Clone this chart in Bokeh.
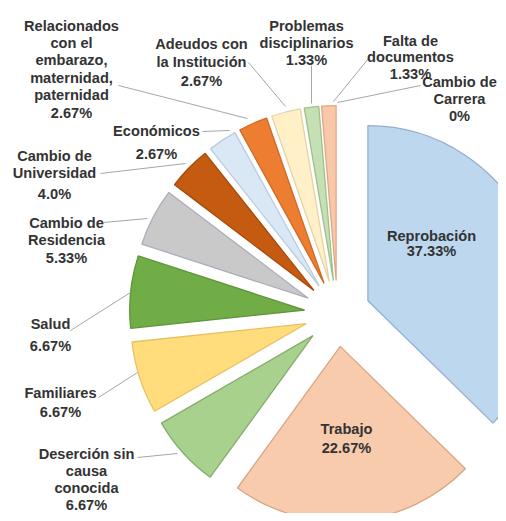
import math
from bokeh.plotting import figure
from bokeh.models import Range1d, ColumnDataSource
from bokeh.core.properties import value
from bokeh.embed import file_html
from bokeh.resources import INLINE

# ---- data (clockwise from 12 o'clock) ----
categories = [
    "Reprobación", "Trabajo", "Deserción sin\ncausa\nconocida", "Familiares",
    "Salud", "Cambio de\nResidencia", "Cambio de\nUniversidad", "Económicos",
    "Relacionados\ncon el\nembarazo,\nmaternidad,\npaternidad",
    "Adeudos con\nla Institución", "Problemas\ndisciplinarios",
    "Falta de\ndocumentos", "Cambio de\nCarrera",
]
values = [37.33, 22.67, 6.67, 6.67, 6.67, 5.33, 4.0, 2.67, 2.67, 2.67, 1.33, 1.33, 0]
fills = ["#BDD7EE", "#F8CBAD", "#A9D18E", "#FFDC7C", "#70AD47", "#C9C9C9",
         "#C55A11", "#DAE8F6", "#ED7D31", "#FFF0C8", "#C5E0B4", "#F8C8A8", "#DDDDDD"]
borders = ["#95AECB", "#D8A584", "#86AC6C", "#E8C060", "#5E9538", "#A9AFBA",
           "#A84A0C", "#B8CCE0", "#D06A22", "#E6D3A4", "#9FC08A", "#DDAA88", "#BBBBBB"]

# ---- layout (pixel coordinates of the reference picture) ----
CX, CY, R, EXPLODE = 337, 313, 175, 33

# label layout: center x, first line y, line spacing, extra gap before %
label_pos = [
    (431, 235, 15, 0), (346, 428, 19, 0), (86, 453, 17.3, 0), (60, 392, 19, 0),
    (50, 323, 22, 0), (66, 222, 17.5, 0), (54, 155, 17, 4), (156, 130, 23, 0),
    (71, 25, 17.4, 0), (201, 43, 18.5, 0), (306, 25, 17, 0), (410, 40, 16.5, 0),
    (459, 81, 17, 0),
]
leaders = [
    None, None, (137, 457, 177, 453), (98, 397, 137, 372), (70, 330, 130, 292),
    (103, 222, 147, 218), (100, 173, 185, 163), (202, 131, 229, 130),
    (118, 85, 247, 118), (248, 62, 285, 106), (311, 65, 311, 103),
    (368, 58, 333, 101), (420, 85, 337, 102),
]

total = sum(values)
wx, wy, ws, we, wf, wb = [], [], [], [], [], []
acc = 0.0
for v, f, b in zip(values, fills, borders):
    a0 = acc / total * 2 * math.pi
    acc += v
    a1 = acc / total * 2 * math.pi
    if v <= 0:
        continue
    mid = (a0 + a1) / 2
    wx.append(CX + EXPLODE * math.sin(mid))
    wy.append(-CY + EXPLODE * math.cos(mid))
    ws.append(math.pi / 2 - a1)
    we.append(math.pi / 2 - a0)
    wf.append(f)
    wb.append(b)

p = figure(width=498, height=513, x_range=Range1d(0, 498), y_range=Range1d(-513, 0),
           x_axis_location=None, y_axis_location=None, toolbar_location=None,
           output_backend="svg", min_border=0, outline_line_color=None,
           background_fill_color="white")
p.xgrid.visible = False
p.ygrid.visible = False

p.wedge(x="x", y="y", radius=R, start_angle="s", end_angle="e",
        fill_color="f", line_color="b", line_width=1.3,
        source=ColumnDataSource(dict(x=wx, y=wy, s=ws, e=we, f=wf, b=wb)))

# leader lines
sx0, sy0, sx1, sy1 = [], [], [], []
for ld in leaders:
    if ld is None:
        continue
    sx0.append(ld[0]); sy0.append(-ld[1]); sx1.append(ld[2]); sy1.append(-ld[3])
p.segment(x0=sx0, y0=sy0, x1=sx1, y1=sy1, line_color="#A6A6A6", line_width=1)

# labels
tx, ty, tt = [], [], []
for cat, v, (lx, ly, sp, gap) in zip(categories, values, label_pos):
    lines = cat.split("\n") + [f"{v}%"]
    for i, ln in enumerate(lines):
        y = ly + i * sp + (gap if i == len(lines) - 1 else 0)
        tx.append(lx); ty.append(-y); tt.append(ln)
p.text(x=tx, y=ty, text=tt, text_align="center", text_baseline="middle",
       text_font=value("Liberation Sans"), text_font_style="bold",
       text_font_size="14.6px", text_color="#333333")

open("out.html", "w").write(file_html(p, INLINE))
